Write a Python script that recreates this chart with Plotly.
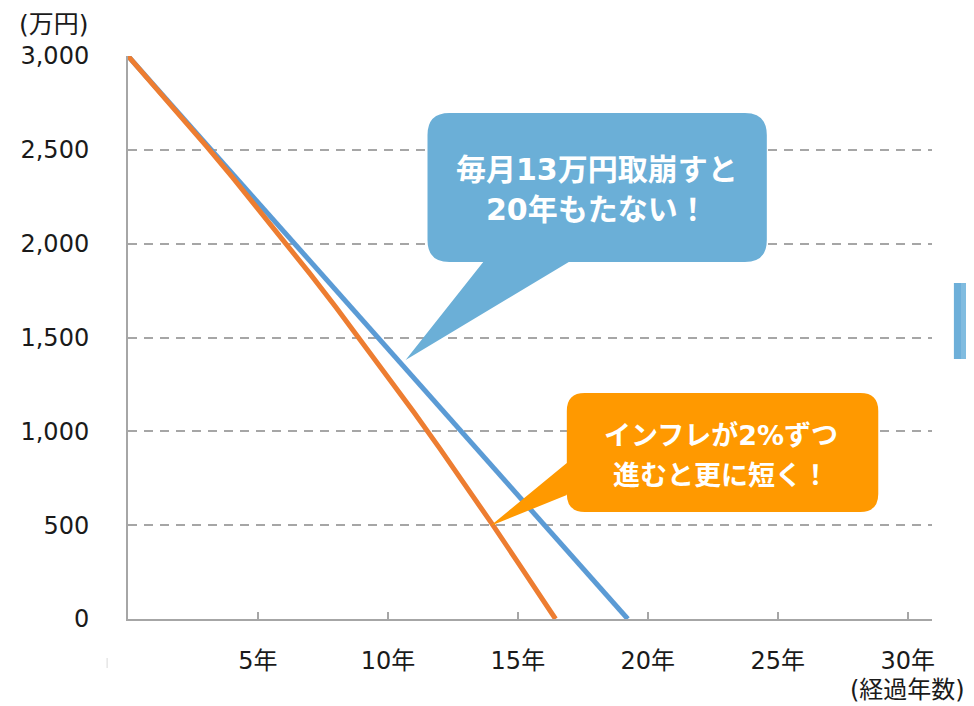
import plotly.graph_objects as go

# 残高推移（万円）: 毎月13万円取崩し / インフレ2%で取崩し額が増える場合
years_flat = [0, 1, 2, 3, 4, 5, 6, 7, 8, 9, 10, 11, 12, 13, 14, 15, 16, 17, 18, 19, 19.23]
balance_flat = [3000, 2844, 2688, 2532, 2376, 2220, 2064, 1908, 1752, 1596, 1440,
                1284, 1128, 972, 816, 660, 504, 348, 192, 36, 0]

years_infl = [0, 1, 2, 3, 4, 5, 6, 7, 8, 9, 10, 11, 12, 13, 14, 15, 16, 16.45]
balance_infl = [3000, 2844, 2685, 2523, 2357, 2188, 2016, 1840, 1661, 1478, 1292,
                1102, 908, 710, 508, 302, 92, 0]

x_tick_vals = [5, 10, 15, 20, 25, 30]
x_tick_text = ['5年', '10年', '15年', '20年', '25年', '30年']
y_tick_vals = [0, 500, 1000, 1500, 2000, 2500, 3000]

# the page body adds an 8px margin, so the figure is drawn 8px smaller
OFF = 8
W, H = 974 - OFF, 706 - OFF
PL, PR, PT, PB = 124, 932, 56, 619   # plot area in screenshot pixels
AXIS_GREY = '#A6A6A6'
FONT = 'DejaVu Sans, Noto Sans CJK JP'


def px(x, y):
    # screenshot pixel -> paper coords
    return (x - PL) / (PR - PL), (PB - y) / (PB - PT)


def path_from(points):
    parts = []
    for cmd, pts in points:
        coords = ' '.join('%.5f,%.5f' % px(*p) for p in pts)
        parts.append(cmd + coords)
    return ' '.join(parts) + ' Z'


def callout_bottom(x0, y0, x1, y1, r, base_l, base_r, tip):
    return path_from([
        ('M', [(x0 + r, y0)]), ('L', [(x1 - r, y0)]), ('Q', [(x1, y0), (x1, y0 + r)]),
        ('L', [(x1, y1 - r)]), ('Q', [(x1, y1), (x1 - r, y1)]),
        ('L', [(base_r, y1)]), ('L', [tip]), ('L', [(base_l, y1)]),
        ('L', [(x0 + r, y1)]), ('Q', [(x0, y1), (x0, y1 - r)]),
        ('L', [(x0, y0 + r)]), ('Q', [(x0, y0), (x0 + r, y0)]),
    ])


def callout_left(x0, y0, x1, y1, r, base_t, base_b, tip):
    return path_from([
        ('M', [(x0 + r, y0)]), ('L', [(x1 - r, y0)]), ('Q', [(x1, y0), (x1, y0 + r)]),
        ('L', [(x1, y1 - r)]), ('Q', [(x1, y1), (x1 - r, y1)]),
        ('L', [(x0 + r, y1)]), ('Q', [(x0, y1), (x0, y1 - r)]),
        ('L', [(x0, base_b)]), ('L', [tip]), ('L', [(x0, base_t)]),
        ('L', [(x0, y0 + r)]), ('Q', [(x0, y0), (x0 + r, y0)]),
    ])


fig = go.Figure()
fig.add_trace(go.Scatter(x=years_flat, y=balance_flat, mode='lines',
                         line=dict(color='#5B9BD5', width=5), hoverinfo='skip'))
fig.add_trace(go.Scatter(x=years_infl, y=balance_infl, mode='lines',
                         line=dict(color='#ED7D31', width=5), hoverinfo='skip'))

shapes = [
    dict(type='path', xref='paper', yref='paper', layer='above',
         path=callout_bottom(425, 113, 766, 262, 22, 481, 567, (403, 360)),
         fillcolor='#6BAFD7', line=dict(width=0)),
    dict(type='path', xref='paper', yref='paper', layer='above',
         path=callout_left(565, 393, 878, 512, 18, 463, 495, (488, 526)),
         fillcolor='#FF9900', line=dict(width=0)),
]
# 右端の切れた青い図形
for x0, x1, col in [(954, 962, '#6DAFD9'), (962, 980, '#80BCE0')]:
    a0, b0 = px(x0, 283)
    a1, b1 = px(x1, 359)
    shapes.append(dict(type='rect', xref='paper', yref='paper', x0=a0, x1=a1, y0=b1, y1=b0,
                       fillcolor=col, line=dict(width=0)))
mx0, my0 = px(103, 658)
mx1, my1 = px(103, 668)
shapes.append(dict(type='line', xref='paper', yref='paper', x0=mx0, x1=mx1, y0=my1, y1=my0,
                   line=dict(color='#D9D9D9', width=1)))


def note(text, x, y, size, color='#1a1a1a', bold=False):
    xp, yp = px(x, y)
    return dict(text='<b>%s</b>' % text if bold else text, x=xp, y=yp, xref='paper', yref='paper',
                xanchor='center', yanchor='middle', showarrow=False,
                font=dict(family=FONT, size=size, color=color))


annotations = [
    note('(万円)', 50, 25, 25),
    note('(経過年数)', 907, 690, 24),
    note('毎月13万円取崩すと', 595, 170, 30, 'white', True),
    note('20年もたない！', 595, 210, 30, 'white', True),
    note('インフレが2%ずつ', 720, 435, 27, 'white', True),
    note('進むと更に短く！', 720, 475, 27, 'white', True),
]

fig.update_layout(width=W, height=H, autosize=False,
                  margin=dict(l=PL - OFF, r=W - (PR - OFF), t=PT - OFF, b=H - (PB - OFF)),
                  paper_bgcolor='white', plot_bgcolor='white',
                  showlegend=False, hovermode=False,
                  font=dict(family=FONT, size=24, color='#1a1a1a'),
                  xaxis=dict(range=[0, (PR - PL) / 26.12], showgrid=False, zeroline=False,
                             showline=True, linecolor=AXIS_GREY, linewidth=2,
                             ticks='inside', ticklen=7, tickwidth=2, tickcolor=AXIS_GREY,
                             tickvals=x_tick_vals, ticktext=x_tick_text,
                             ticklabelstandoff=19, tickfont=dict(size=24)),
                  yaxis=dict(range=[0, 3000], tickvals=y_tick_vals, tickformat=',',
                             showgrid=True, gridcolor=AXIS_GREY, gridwidth=2, griddash='9px,7px',
                             zeroline=False, showline=True, linecolor=AXIS_GREY, linewidth=2,
                             ticks='', ticklabelstandoff=32, tickfont=dict(size=24)),
                  shapes=shapes, annotations=annotations)

fig.write_html('out.html')
